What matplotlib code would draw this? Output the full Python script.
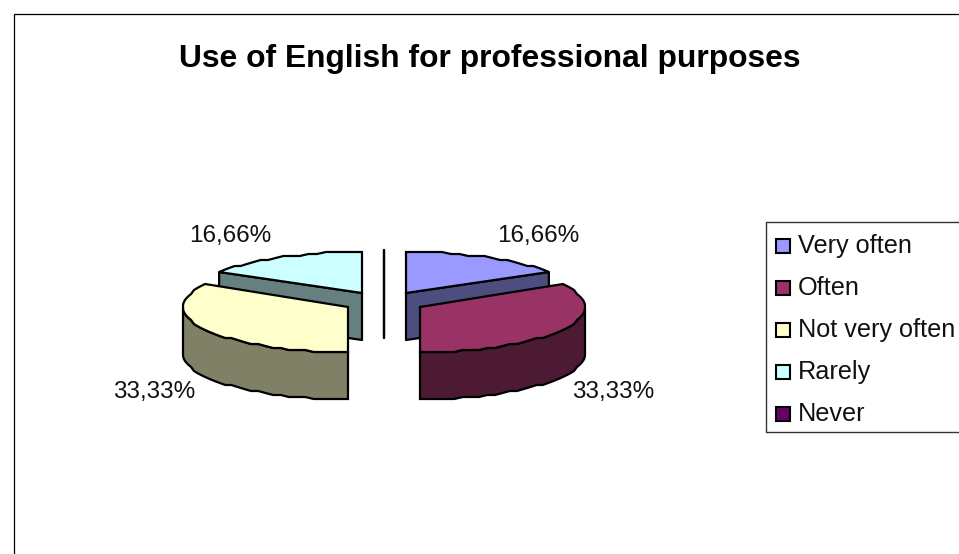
import numpy as np
import matplotlib
matplotlib.use("Agg")
import matplotlib.pyplot as plt
from matplotlib.patches import Polygon, Rectangle

plt.rcParams["font.family"] = ["Liberation Sans", "DejaVu Sans"]

title = "Use of English for professional purposes"
categories = ["Very often", "Often", "Not very often", "Rarely", "Never"]
values = [16.66, 33.33, 33.33, 16.66, 0.0]
value_labels = ["16,66%", "33,33%", "33,33%", "16,66%", None]

top_colors = ["#9999FF", "#993366", "#FFFFCC", "#CCFFFF", "#660066"]
wall_colors = ["#4D4D80", "#4D1A33", "#808066", "#668080", "#330033"]

# exploded slice centres and the squashed radii of the 3d look
centers = [(406, 293), (420, 307), (348, 307), (362, 293), (384, 291)]
radii_y = [41, 45, 45, 41, 41]
radius_x = 165
depth = 47
label_pos = [(538, 236), (613, 392), (154, 392), (230, 236), None]
draw_order = [4, 3, 0, 1, 2]

LW = 1.6


def rim(center, ry, angle):
    # angle in degrees, clockwise from 12 o'clock
    a = np.radians(angle)
    x = center[0] + radius_x * np.sin(a)
    y = center[1] - ry * np.cos(a)
    # small vertical steps give the rim its rough edge
    return x, np.round(y / 2) * 2


def arc_points(center, ry, start, end):
    n = max(int(abs(end - start) / 3), 1) + 1
    return [rim(center, ry, a) for a in np.linspace(start, end, n)]


def cut_face(ax, center, ry, angle, color):
    x, y = rim(center, ry, angle)
    pts = [center, (x, y), (x, y + depth), (center[0], center[1] + depth)]
    ax.add_patch(Polygon(pts, closed=True, fc=color, ec="black", lw=LW, joinstyle="round"))


def draw_slice(ax, i, start, end):
    center, ry = centers[i], radii_y[i]

    if end - start == 0:
        # empty slice, only its cut edge shows
        cut_face(ax, center, ry, start % 360, "black")
        return

    if 0 < end < 180:
        cut_face(ax, center, ry, end, wall_colors[i])
    if 180 < start < 360:
        cut_face(ax, center, ry, start, wall_colors[i])

    # outer wall, only the part facing the viewer
    lo, hi = max(start, 90), min(end, 270)
    if lo < hi:
        front = arc_points(center, ry, lo, hi)
        lower = [(x, y + depth) for x, y in reversed(front)]
        ax.add_patch(Polygon(front + lower, closed=True, fc=wall_colors[i], ec="black", lw=LW))

    top = [center] + arc_points(center, ry, start, end)
    ax.add_patch(Polygon(top, closed=True, fc=top_colors[i], ec="black", lw=LW))


fig = plt.figure(figsize=(9.59, 5.54), dpi=100)
ax = fig.add_axes([0, 0, 1, 1])
ax.set_xlim(0, 959)
ax.set_ylim(554, 0)
ax.axis("off")

# chart frame runs off the right and bottom edges
ax.add_patch(Rectangle((14, 14), 1000, 600, fc="white", ec="black", lw=0.9))

ax.text(490, 59, title, fontsize=22.9, fontweight="bold", ha="center", va="center")

angles = np.cumsum([0] + values) / sum(values) * 360
for i in draw_order:
    draw_slice(ax, i, angles[i], angles[i + 1])

for text, pos in zip(value_labels, label_pos):
    if text is not None:
        ax.text(pos[0], pos[1], text, fontsize=17.5, ha="center", va="center", color="#111111")

# legend box, cut off by the right edge
ax.add_patch(Rectangle((766, 222), 300, 210, fc="white", ec="#333333", lw=1.0))
for i, name in enumerate(categories):
    yc = 245.5 + 42 * i
    ax.add_patch(Rectangle((776, yc - 7), 14, 14, fc=top_colors[i], ec="black", lw=1.5))
    ax.text(798, yc + 0.5, name, fontsize=18.2, ha="left", va="center", color="#111111")

fig.savefig("out.png", dpi=100)
